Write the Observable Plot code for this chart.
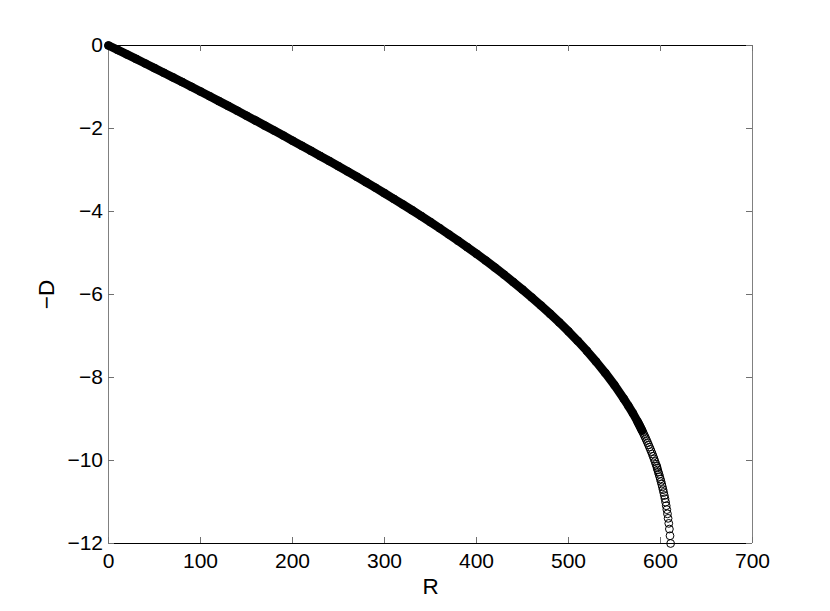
<!DOCTYPE html>
<html><head><meta charset="utf-8">
<script src="https://cdn.jsdelivr.net/npm/d3@7"></script>
<script src="https://cdn.jsdelivr.net/npm/@observablehq/plot@0.6"></script>
<style>body{margin:0;background:#fff}</style>
</head><body><div id="chart"></div>
<script>
// R values (x) and D values (plotted as -D)
const R = [0,10,20,30,40,50,60,70,80,90,100,110,120,130,140,150,160,170,180,190,200,
  210,220,230,240,250,260,270,280,290,300,310,320,330,340,350,360,370,380,390,400,
  410,420,430,440,450,460,470,480,490,500,510,520,530,540,550,560,565,570,575,
  576,577,578,579,580,581,582,583,584,585,586,587,588,589,590,591,592,593,594,595,596,
  596.30,596.97,597.66,598.37,599.09,599.82,600.55,601.29,602.02,602.74,603.45,604.16,
  604.87,605.54,606.21,606.89,607.57,608.26,609.0,609.66,610.34,611];
const D = [0,0.107,0.216,0.324,0.434,0.545,0.656,0.768,0.880,0.994,1.108,1.223,1.339,1.456,1.573,1.691,1.810,1.930,2.050,2.171,2.293,
  2.415,2.538,2.661,2.785,2.910,3.036,3.164,3.294,3.425,3.559,3.694,3.831,3.970,4.111,4.256,4.403,4.553,4.706,4.861,5.020,
  5.182,5.350,5.522,5.700,5.882,6.070,6.264,6.465,6.674,6.890,7.118,7.360,7.618,7.890,8.185,8.510,8.681,8.862,9.061,
  9.103,9.146,9.190,9.234,9.280,9.326,9.374,9.422,9.471,9.521,9.572,9.624,9.677,9.730,9.785,9.841,9.900,9.961,10.025,10.091,10.140,
  10.181,10.229,10.280,10.333,10.388,10.446,10.506,10.569,10.634,10.702,10.772,10.844,
  10.921,11.003,11.090,11.184,11.285,11.394,11.515,11.652,11.814,12.00];

const xTicks = [0,100,200,300,400,500,600,700];
const xTickLabels = ["0","100","200","300","400","500","600","700"];
const yTicks = [-12,-10,-8,-6,-4,-2,0];
const yTickLabels = ["\u221212","\u221210","\u22128","\u22126","\u22124","\u22122","0"];
const xLabel = "R";
const yLabel = "\u2212D";

const points = R.map((r, i) => ({R: r, negD: -D[i]}));
const band = points.filter(p => p.R <= 580);

const W = 830, H = 611, mL = 108, mR = 78, mT = 45, mB = 68;
const innerW = W - mL - mR, innerH = H - mT - mB;
const tick = 6;
const font = "'Liberation Sans', Arial, Helvetica, sans-serif";

const chart = Plot.plot({
  width: W, height: H,
  marginLeft: mL, marginRight: mR, marginTop: mT, marginBottom: mB,
  style: {fontFamily: font, background: "white", color: "black", overflow: "visible"},
  x: {domain: [0, 700]},
  y: {domain: [-12, 0]},
  marks: [
    Plot.ruleX([0, 700], {stroke: "#808080", strokeWidth: 1}),
    Plot.ruleY([-12, 0], {stroke: "black", strokeWidth: 1}),
    Plot.tickX(xTicks, {x: d => d, insetTop: innerH - tick, stroke: "#707070"}),
    Plot.tickX(xTicks, {x: d => d, insetBottom: innerH - tick, stroke: "#707070"}),
    Plot.tickY(yTicks, {y: d => d, insetRight: innerW - tick, stroke: "#707070"}),
    Plot.tickY(yTicks, {y: d => d, insetLeft: innerW - tick, stroke: "#707070"}),
    Plot.axisX({anchor: "bottom", ticks: xTicks, tickFormat: d => xTickLabels[xTicks.indexOf(d)],
      tickSize: 0, tickPadding: 10, fontSize: 21, label: null}),
    Plot.axisY({anchor: "left", ticks: yTicks, tickFormat: d => yTickLabels[yTicks.indexOf(d)],
      tickSize: 0, tickPadding: 5.5, fontSize: 21, label: null}),
    Plot.line(band, {x: "R", y: "negD", stroke: "black", strokeWidth: 8.6}),
    Plot.dot(points, {x: "R", y: "negD", r: 3.9, stroke: "black", strokeWidth: 1, fill: "none"}),
    Plot.text([xLabel], {frameAnchor: "bottom", text: d => d, dy: 50, fontSize: 22.5, lineAnchor: "bottom", textAnchor: "middle"}),
    Plot.text([yLabel], {frameAnchor: "left", text: d => d, rotate: -90, dx: -55, fontSize: 22.5, lineAnchor: "bottom", textAnchor: "middle"})
  ]
});
document.getElementById("chart").appendChild(chart);
</script>
</body></html>
